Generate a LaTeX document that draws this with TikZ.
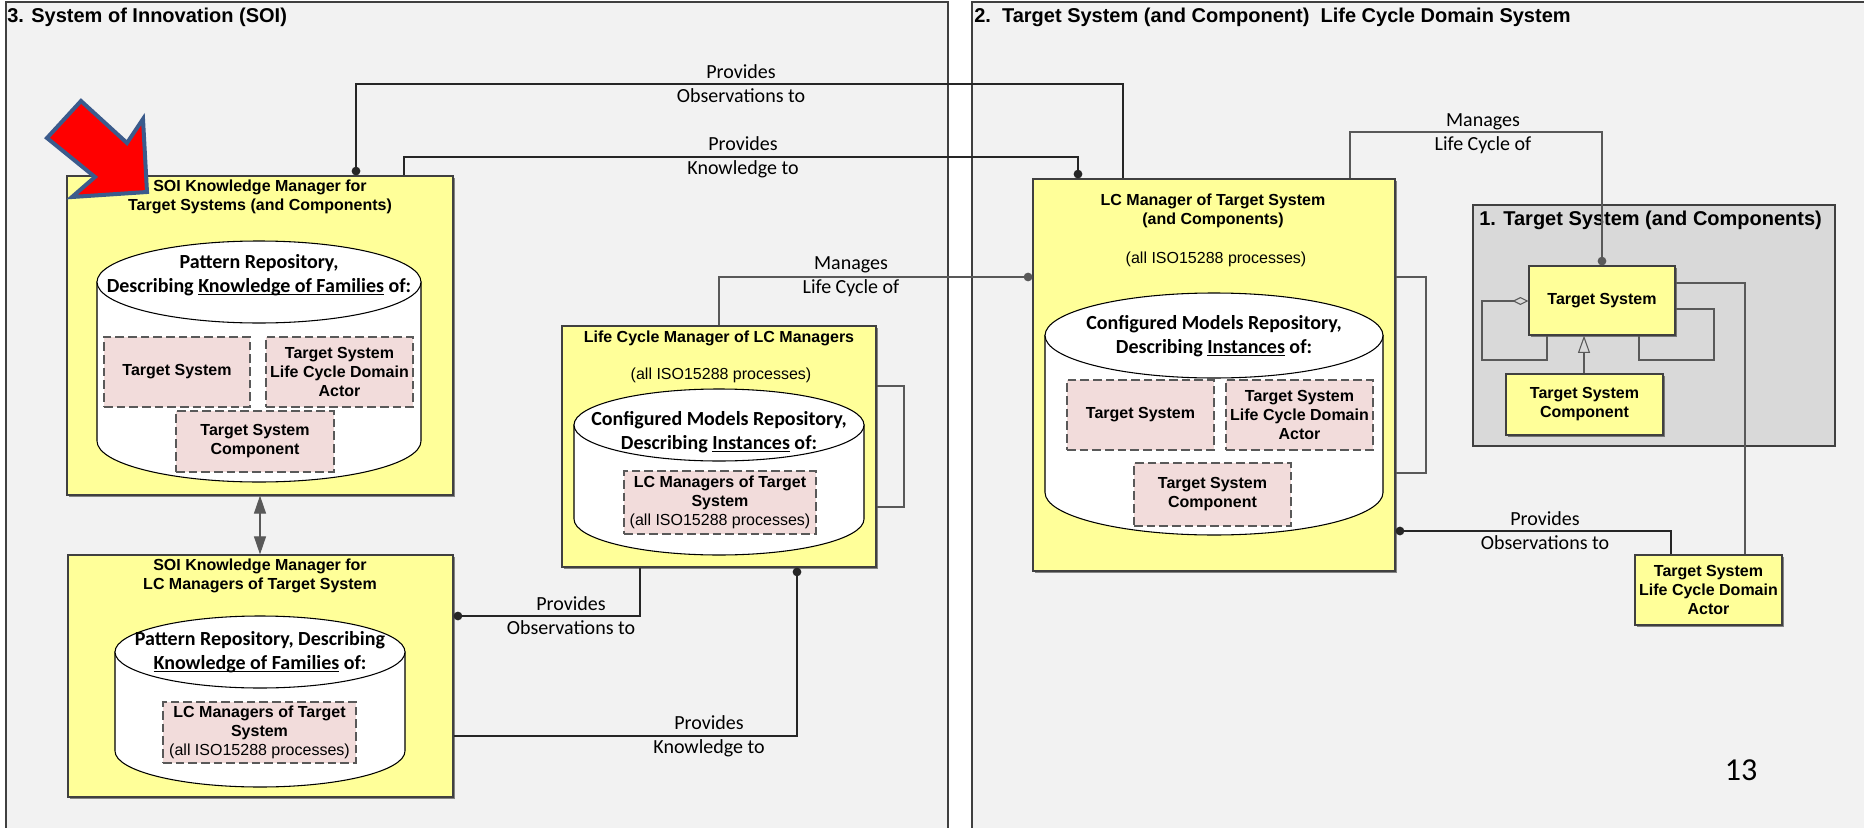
\documentclass[tikz,border=0pt]{standalone}
\usepackage{fontspec}
\setmainfont{Liberation Sans}
\newfontfamily\arialf{Liberation Sans}
\newfontfamily\calf{Carlito}
\usetikzlibrary{arrows.meta,fit,shadows}
\definecolor{panelgray}{HTML}{F2F2F2}
\definecolor{boxyellow}{HTML}{FFFF99}
\definecolor{notepink}{HTML}{F2DCDB}
\definecolor{innergray}{HTML}{D9D9D9}
\definecolor{edgegray}{HTML}{404040}
\definecolor{arrowblue}{HTML}{3B5B8C}
% underline sitting just below the baseline
\newcommand\uln[1]{\setbox0\hbox{#1}\rlap{\rule[-2pt]{\wd0}{0.9pt}}\box0\relax}
% repository cylinder: centre x, top-ellipse y, bottom-ellipse y, x radius, y radius
\newcommand\drawcyl[5]{%
  \filldraw[cyl] (#1-#4,#2) -- (#1-#4,#3) arc[start angle=180,end angle=0,x radius=#4,y radius=#5] -- (#1+#4,#2) -- cycle;
  \filldraw[cyl] (#1,#2) ellipse[x radius=#4,y radius=#5];
}
\begin{document}
\begin{tikzpicture}[x=0.75pt,y=-0.75pt,
  panel/.style={draw=edgegray,fill=panelgray,line width=0.9pt},
  ybox/.style={draw=edgegray,fill=boxyellow,line width=0.9pt,inner sep=0pt,
    drop shadow={shadow xshift=1.3pt,shadow yshift=-1.3pt,opacity=0.45,fill=black}},
  gbox/.style={draw=edgegray,fill=innergray,line width=0.9pt,inner sep=0pt},
  pbox/.style={draw=black!65,fill=notepink,line width=0.9pt,dash pattern=on 6.5pt off 3pt,inner sep=0pt},
  cyl/.style={draw=black,fill=white,line width=0.8pt},
  ptitle/.style={font=\arialf\bfseries\fontsize{15}{18}\selectfont,inner sep=0pt},
  btext/.style={font=\arialf\bfseries\fontsize{12}{14.25}\selectfont,align=center,inner sep=0pt},
  stext/.style={font=\arialf\fontsize{12}{14.25}\selectfont,align=center,inner sep=0pt},
  ctext/.style={font=\calf\bfseries\fontsize{15}{18}\selectfont,align=center,inner sep=0pt},
  lab/.style={font=\calf\fontsize{15}{18}\selectfont,align=center,inner sep=0pt},
  conn/.style={draw=black!85,line width=0.9pt},
  thin/.style={draw=black!65,line width=0.8pt},
  dot/.tip={Circle[length=6.5pt]},
  head/.tip={Triangle[length=13.5pt,width=9pt]}
]
\useasboundingbox (0,0) rectangle (1864,828);
\clip (0,0) rectangle (1864,828);
\fill[white] (0,0) rectangle (1864,828);

% ---------- the two domain panels ----------
\draw[panel] (6,2) rectangle (948,860);
\draw[panel] (972,2) rectangle (1900,860);
\node[ptitle,anchor=west] (t3) at (7,17) {3. System of Innovation (SOI)};
\node[ptitle,anchor=west] (t2) at (974,17) {2.\ \ Target System (and Component)\ \ Life Cycle Domain System};

% ---------- SOI knowledge manager for target systems ----------
\node[ybox,fit={(67,176) (453,495)}] (k1) {};
\node[btext] (k1t) at (260,197) {SOI Knowledge Manager for\\Target Systems (and Components)};
\drawcyl{259}{282}{441}{162}{41}
\node[ctext] (k1c) at (259,275) {Pattern Repository,\\Describing \uln{Knowledge of Families} of:};
\node[pbox,fit={(104,337) (250,407)}] (pa1) {};
\node[btext] (pa1x) at (pa1) {Target System};
\node[pbox,fit={(266,337) (413,407)}] (pa2) {};
\node[btext] (pa2x) at (pa2) {Target System\\Life Cycle Domain\\Actor};
\node[pbox,fit={(176,411) (334,472)}] (pa3) {};
\node[btext] (pa3x) at (pa3) {Target System\\Component};

% ---------- SOI knowledge manager for LC managers ----------
\node[ybox,fit={(68,555) (453,797)}] (k2) {};
\node[btext] (k2t) at (260,576) {SOI Knowledge Manager for\\LC Managers of Target System};
\drawcyl{260}{652}{751}{145}{36}
\node[ctext] (k2c) at (260,652) {Pattern Repository, Describing\\\uln{Knowledge of Families} of:};
\node[pbox,fit={(163,702) (356,763)}] (pb) {};
\node[btext] (pbx) at (pb) {LC Managers of Target\\System\\{\mdseries(all ISO15288 processes)}};

% ---------- life cycle manager of LC managers ----------
\node[ybox,fit={(562,326) (876,567)}] (m) {};
\node[btext] (mt) at (719,338) {Life Cycle Manager of LC Managers};
\node[stext] (ms) at (721,375) {(all ISO15288 processes)};
\drawcyl{719}{425}{519}{145}{36}
\node[ctext] (mc) at (719,432) {Configured Models Repository,\\Describing \uln{Instances} of:};
\node[pbox,fit={(624,471) (816,534)}] (pc) {};
\node[btext] (pcx) at (pc) {LC Managers of Target\\System\\{\mdseries(all ISO15288 processes)}};

% ---------- LC manager of target system ----------
\node[ybox,fit={(1033,179) (1395,571)}] (lcm) {};
\node[btext] (lcmt) at (1213,211) {LC Manager of Target System\\(and Components)};
\node[stext] (lcms) at (1216,259) {(all ISO15288 processes)};
\drawcyl{1214}{335.5}{492.5}{169}{42.5}
\node[ctext] (lcmc) at (1214,336) {Configured Models Repository,\\Describing \uln{Instances} of:};
\node[pbox,fit={(1067,380) (1214,450)}] (pd1) {};
\node[btext] (pd1x) at (pd1) {Target System};
\node[pbox,fit={(1226,380) (1373,450)}] (pd2) {};
\node[btext] (pd2x) at (pd2) {Target System\\Life Cycle Domain\\Actor};
\node[pbox,fit={(1134,463) (1291,526)}] (pd3) {};
\node[btext] (pd3x) at (pd3) {Target System\\Component};

% ---------- target system and components ----------
\node[gbox,fit={(1473,205) (1835,446)}] (g) {};
\node[ptitle,anchor=west] (gt) at (1479,220) {1. Target System (and Components)};
\node[ybox,fit={(1529,266) (1675,335)}] (ts) {};
\node[btext] (tsx) at (ts) {Target System};
\node[ybox,fit={(1506,374) (1663,435)}] (tsc) {};
\node[btext] (tscx) at (tsc) {Target System\\Component};
\node[ybox,fit={(1635,555) (1782,625)}] (act) {};
\node[btext] (actx) at (act) {Target System\\Life Cycle Domain\\Actor};

% ---------- pointer arrow ----------
\filldraw[fill=red,draw=arrowblue,line width=3pt,line join=miter]
  (81,101) -- (47,138) -- (95,177) -- (72,197) -- (147,192) -- (143,119) -- (127,143) -- cycle;

% ---------- connectors, left panel ----------
\draw[conn,dot-] (356,0 |- k1.north) -- (356,84) -- (1123,84) -- (1123,0 |- lcm.north);
\node[lab] (l1) at (741,84) {Provides\\Observations to};
\draw[conn,-dot] (404,0 |- k1.north) -- (404,157) -- (1078,157) -- (1078,0 |- lcm.north);
\node[lab] (l2) at (743,157) {Provides\\Knowledge to};
\draw[thin,-dot] (719,0 |- m.north) -- (719,277) -- (lcm.west |- 0,277);
\node[lab] (l3) at (851,277) {Manages\\Life Cycle of};
\draw[thin] (m.east |- 0,386) -- (904,386) -- (904,507) -- (m.east |- 0,507);
\draw[thin,head-head] (260,0 |- k1.south) -- (260,0 |- k2.north);
\draw[conn,-dot] (640,0 |- m.south) -- (640,616) -- (k2.east |- 0,616);
\node[lab] (l4) at (571,616) {Provides\\Observations to};
\draw[conn,-dot] (k2.east |- 0,736) -- (797,736) -- (797,0 |- m.south);
\node[lab] (l5) at (709,736) {Provides\\Knowledge to};

% ---------- connectors, right panel ----------
\draw[thin] (lcm.east |- 0,277) -- (1426,277) -- (1426,473) -- (lcm.east |- 0,473);
\draw[thin,-dot] (1350,0 |- lcm.north) -- (1350,132) -- (1602,132) -- (1602,0 |- ts.north);
\node[lab] (l6) at (1483,134) {Manages\\Life Cycle of};
\draw[conn,-dot] (1671,0 |- act.north) -- (1671,531) -- (lcm.east |- 0,531);
\node[lab] (l7) at (1545,531) {Provides\\Observations to};
\draw[thin] (ts.east |- 0,283) -- (1745,283) -- (1745,0 |- act.north);
\draw[thin,{Diamond[open,length=12pt,width=6pt]}-] (ts.west |- 0,301) -- (1482,301) -- (1482,360) -- (1547,360) -- (1547,0 |- ts.south);
\draw[thin] (ts.east |- 0,309) -- (1714,309) -- (1714,360) -- (1639,360) -- (1639,0 |- ts.south);
\draw[thin,-{Triangle[open,length=13pt,width=9pt]}] (1584,0 |- tsc.north) -- (1584,0 |- ts.south);

% page number
\node[font=\calf\fontsize{24}{28}\selectfont,inner sep=0pt] (pg) at (1741,770) {13};
\end{tikzpicture}
\end{document}
